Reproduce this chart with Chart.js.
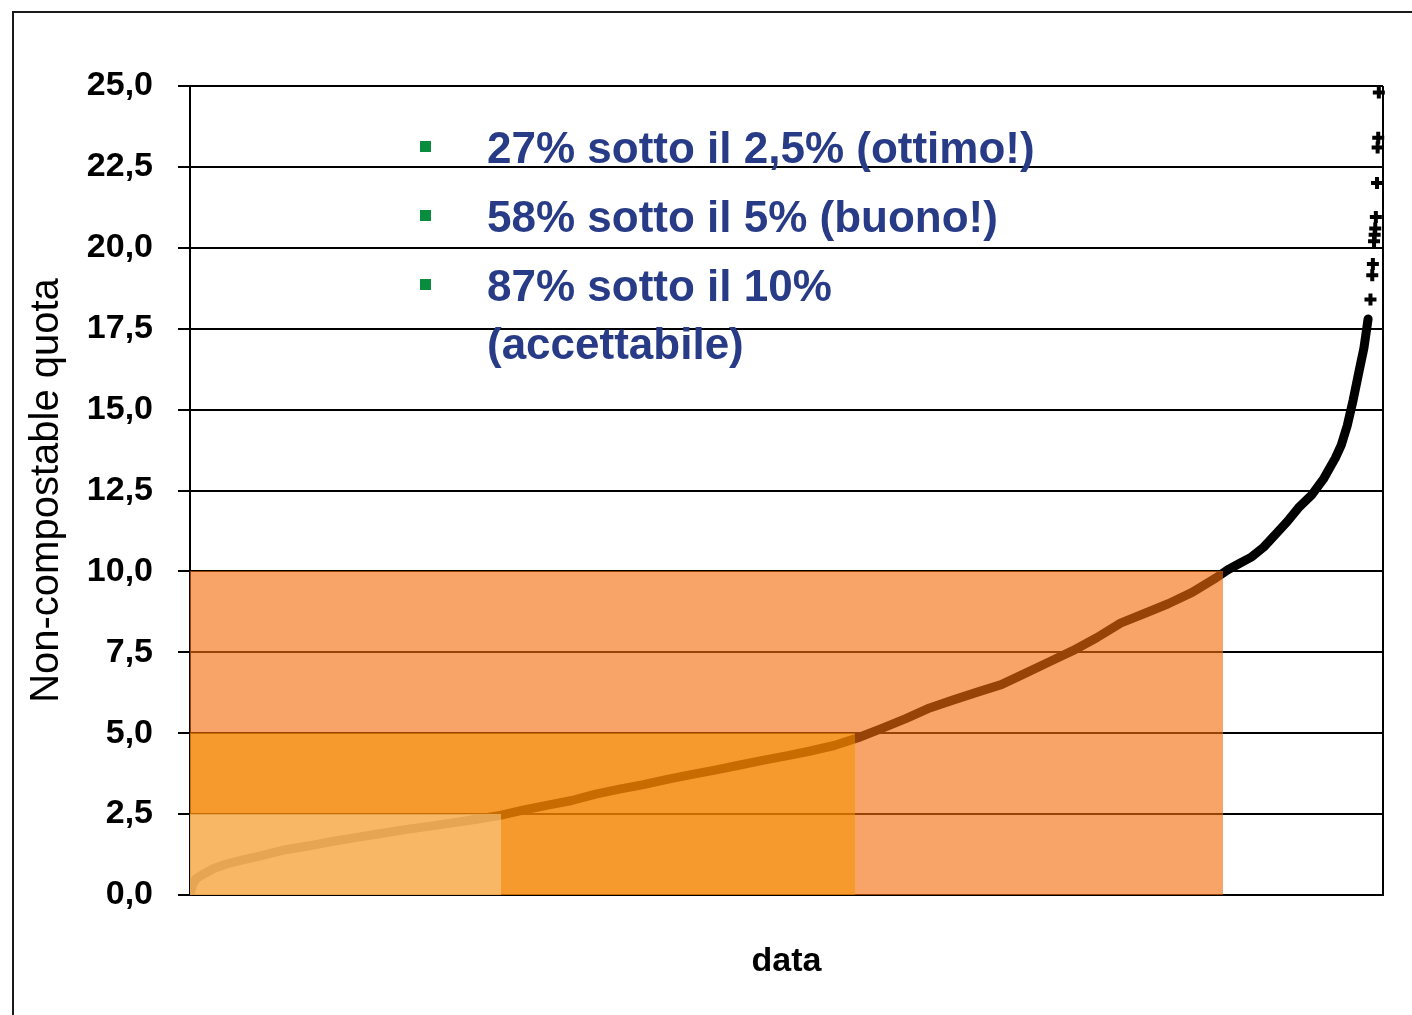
<!DOCTYPE html>
<html>
<head>
<meta charset="utf-8">
<script src="https://cdn.jsdelivr.net/npm/chart.js@4.4.1/dist/chart.umd.min.js"></script>
<style>
  html, body { margin: 0; padding: 0; background: #fff; overflow: hidden; }
  #wrap { position: relative; width: 1412px; height: 1015px; }
  #frame { position: absolute; left: 12px; top: 11px; width: 1500px; height: 1100px; border: 2px solid #1a1a1a; }
  #chart { position: absolute; left: 0; top: 0; }
  #notes {
    position: absolute; left: 487px; top: 119px;
    font: bold 44px 'Liberation Sans', Arial, sans-serif;
    color: #283b87; line-height: 58px;
  }
  #notes div { position: relative; margin-bottom: 11px; white-space: nowrap; }
  #notes div::before {
    content: ''; position: absolute; left: -67px; top: 22px;
    width: 11px; height: 11px; background: #0a8c3e;
  }
</style>
</head>
<body>
<div id="wrap">
  <div id="frame"></div>
  <canvas id="chart" width="1412" height="1015"></canvas>
  <div id="notes">
    <div>27% sotto il 2,5% (ottimo!)</div>
    <div>58% sotto il 5% (buono!)</div>
    <div>87% sotto il 10%<br>(accettabile)</div>
  </div>
</div>
<script>
// sorted samples: rank (% of samples) and non-compostable quota
const rank = [0, 0.2, 0.5, 1, 2, 3, 4, 6, 8, 10, 12, 14, 16, 18, 20, 22, 24, 26,
  28, 30, 32, 34, 36, 38, 40, 42, 44, 46, 48, 50, 52, 54, 56,
  58, 60, 62, 64, 66, 68, 70, 72, 74, 76, 78, 80, 82, 84, 86,
  87, 88, 89, 90, 91, 92, 93, 94, 95, 96, 96.5, 97, 97.5, 98, 98.4, 98.75];
const quota = [0, 0.3, 0.5, 0.62, 0.82, 0.95, 1.05, 1.22, 1.4, 1.52, 1.66, 1.78, 1.9, 2.02, 2.12, 2.23, 2.34, 2.46,
  2.63, 2.78, 2.92, 3.12, 3.27, 3.41, 3.57, 3.72, 3.86, 4.01, 4.16, 4.3, 4.45, 4.62, 4.86,
  5.15, 5.45, 5.78, 6.03, 6.27, 6.5, 6.85, 7.2, 7.55, 7.95, 8.4, 8.7, 9.0, 9.35, 9.8,
  10.05, 10.25, 10.45, 10.75, 11.15, 11.55, 12.0, 12.35, 12.85, 13.5, 13.9, 14.5, 15.3, 16.2, 16.9, 17.8];

// the few highest samples, shown as single markers
const tailRank = [98.95, 99.1, 99.15, 99.25, 99.3, 99.35, 99.4, 99.5, 99.55, 99.6, 99.65];
const tailQuota = [18.4, 19.15, 19.5, 20.2, 20.4, 20.6, 20.95, 22.0, 23.1, 23.4, 24.8];

// highlighted bands: share of samples (x end) under each quota limit
const bandEnds = [26.1, 55.7, 86.6];
const bandLimits = [2.5, 5, 10];
const bandColors = ['rgba(248,177,89,0.93)', 'rgba(245,132,0,0.82)', 'rgba(243,108,11,0.62)'];

const yMin = 0, yMax = 25, yStep = 2.5;

const toPts = (xs, ys) => xs.map((x, i) => ({ x: x, y: ys[i] }));

// right frame line of the plot area
const frameRight = {
  id: 'frameRight',
  beforeDatasetsDraw(chart) {
    const { ctx, chartArea: a } = chart;
    ctx.save();
    ctx.strokeStyle = '#000';
    ctx.lineWidth = 2;
    ctx.beginPath();
    ctx.moveTo(a.right, a.top);
    ctx.lineTo(a.right, a.bottom);
    ctx.stroke();
    ctx.restore();
  }
};

// translucent bands laid over the curve, drawn as non overlapping pieces
const bands = {
  id: 'bands',
  afterDatasetsDraw(chart) {
    const { ctx, scales: { x, y } } = chart;
    const px = v => Math.round(x.getPixelForValue(v));
    const py = v => Math.round(y.getPixelForValue(v));
    const pieces = [];
    for (let i = 0; i < bandEnds.length; i++) {
      const prevEnd = i ? bandEnds[i - 1] : 0;
      const prevLim = i ? bandLimits[i - 1] : 0;
      pieces.push([prevEnd, bandEnds[i], 0, bandLimits[i], bandColors[i]]);
      if (i) pieces.push([0, prevEnd, prevLim, bandLimits[i], bandColors[i]]);
    }
    ctx.save();
    pieces.forEach(p => {
      const x0 = px(p[0]), x1 = px(p[1]), y0 = py(p[2]), y1 = py(p[3]);
      ctx.fillStyle = p[4];
      ctx.fillRect(x0, y1, x1 - x0, y0 - y1);
    });
    ctx.restore();
  }
};

new Chart(document.getElementById('chart'), {
  type: 'scatter',
  data: {
    datasets: [
      {
        data: toPts(rank, quota),
        showLine: true,
        borderColor: '#000',
        backgroundColor: '#000',
        borderWidth: 9,
        borderJoinStyle: 'round',
        borderCapStyle: 'round',
        tension: 0,
        pointRadius: 0
      },
      {
        data: toPts(tailRank, tailQuota),
        showLine: false,
        pointStyle: 'cross',
        pointRadius: 6,
        borderColor: '#000',
        borderWidth: 4,
        clip: 10
      }
    ]
  },
  options: {
    responsive: false,
    animation: false,
    layout: { padding: { top: 86, right: 29, left: 0, bottom: 0 } },
    plugins: { legend: { display: false }, tooltip: { enabled: false } },
    scales: {
      x: {
        type: 'linear',
        min: 0,
        max: 100,
        ticks: { display: false },
        grid: { display: false },
        border: { display: true, color: '#000', width: 2 },
        title: {
          display: true,
          text: 'data',
          color: '#000',
          font: { family: 'Liberation Sans', size: 34, weight: 'bold' },
          padding: { top: 0, bottom: 33 }
        },
        afterFit: s => { s.height = 120; }
      },
      y: {
        min: yMin,
        max: yMax,
        ticks: {
          stepSize: yStep,
          color: '#000',
          padding: 25,
          font: { family: 'Liberation Sans', size: 34, weight: 'bold' },
          callback: v => v.toFixed(1).replace('.', ',')
        },
        grid: { color: '#000', lineWidth: 2, tickLength: 12, drawTicks: true },
        border: { display: true, color: '#000', width: 2 },
        title: {
          display: true,
          text: 'Non-compostable quota',
          color: '#000',
          font: { family: 'Liberation Sans', size: 40 },
          padding: { top: 23, bottom: 0 }
        },
        afterFit: s => { s.width = 190; }
      }
    }
  },
  plugins: [frameRight, bands]
});
</script>
</body>
</html>
